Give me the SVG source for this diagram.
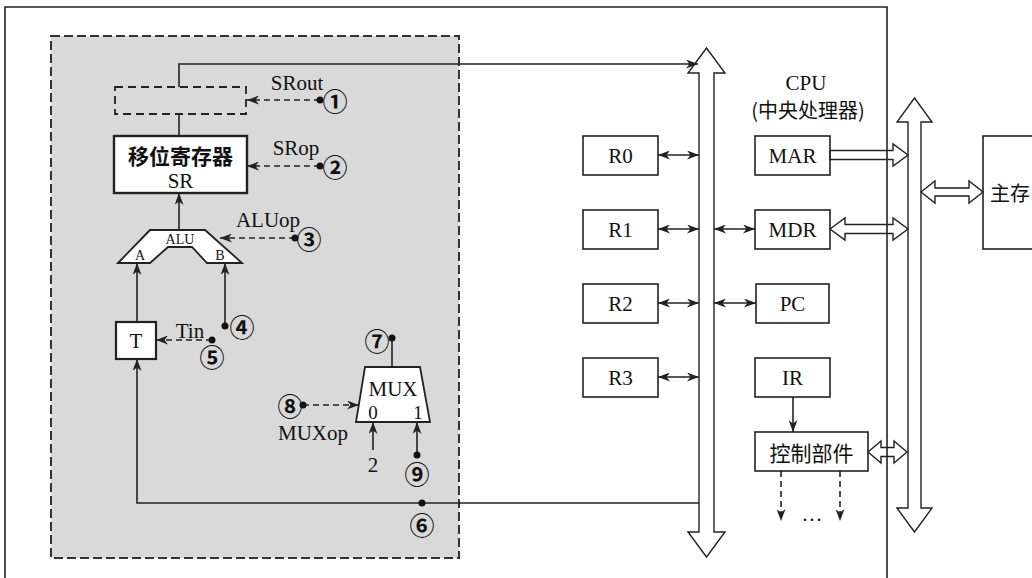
<svg xmlns="http://www.w3.org/2000/svg" width="1032" height="578" viewBox="0 0 1032 578">
<style>
.t{font-family:"Liberation Serif","Noto Sans CJK SC",serif;font-size:21px;fill:#111;text-anchor:middle;dominant-baseline:central}
.s{font-size:14px}
.cjk{font-family:"Noto Sans CJK SC",sans-serif;font-size:20px;fill:#111;text-anchor:middle;dominant-baseline:central}
.num{font-family:"Noto Sans CJK SC","DejaVu Sans",sans-serif;font-size:25px;font-weight:bold;fill:#111;text-anchor:middle;dominant-baseline:central}
.box{fill:#fff;stroke:#222;stroke-width:1.6}
.ln{fill:none;stroke:#222;stroke-width:1.6}
.dash{fill:none;stroke:#222;stroke-width:1.6;stroke-dasharray:6,4}
.hol{fill:none;stroke:#222;stroke-width:1.4;stroke-linejoin:miter}
</style>
<defs>
<marker id="ah" viewBox="0 0 12 9" refX="12" refY="4.5" markerWidth="12" markerHeight="9" markerUnits="userSpaceOnUse" orient="auto-start-reverse">
<path d="M0,0 L12,4.5 L0,9 L3.5,4.5 z" fill="#222"/>
</marker>
</defs>
<rect width="1032" height="578" fill="#fff"/>

<g id="cpu-frame">
<path d="M5,600 V7 H887 V600" class="ln" stroke-width="1.4"/>
</g>

<g id="datapath-area">
<rect x="51" y="36" width="408" height="522" fill="#d9d9d9" stroke="#333" stroke-width="2" stroke-dasharray="9,4"/>
</g>

<g id="bus-internal">
<polygon points="699,532 699,73 688,73 706.5,48 725,73 714,73 714,532 725,532 706.5,557 688,532" fill="#fff" stroke="#222" stroke-width="1.4"/>
</g>
<g id="bus-system">
<polygon points="908,508 908,122 897,122 914.5,98 932,122 921,122 921,508 932,508 914.5,532 897,508" fill="#fff" stroke="#222" stroke-width="1.4"/>
</g>

<g id="srout-gate">
<rect x="115" y="87" width="131" height="27" fill="none" stroke="#222" stroke-width="1.8" stroke-dasharray="8,5"/>
</g>

<g id="SR">
<rect x="114" y="136" width="133" height="57" fill="#fff" stroke="#222" stroke-width="2.4"/>
<text x="180.5" y="155" class="cjk" style="font-weight:bold;font-size:21px">移位寄存器</text>
<text x="180.5" y="181" class="t">SR</text>
</g>

<g id="ALU">
<polygon points="118,263 150,230 205,230 242,263 207,263 192,247 168,247 150,263" fill="#fff" stroke="#222" stroke-width="1.8"/>
<text x="180" y="239" class="t s">ALU</text>
<text x="140" y="255" class="t s">A</text>
<text x="220" y="255" class="t s">B</text>
</g>

<g id="T">
<rect x="116" y="322" width="40" height="37" fill="#fff" stroke="#222" stroke-width="2.2"/>
<text x="136" y="341" class="t">T</text>
</g>

<g id="MUX">
<polygon points="365,367 420,367 430,422 356,422" fill="#fff" stroke="#222" stroke-width="1.8"/>
<text x="393" y="389" class="t">MUX</text>
<text x="373" y="412" class="t" style="font-size:19px">0</text>
<text x="418" y="412" class="t" style="font-size:19px">1</text>
</g>

<g id="R0"><rect x="583" y="136" width="75" height="39" class="box"/><text x="620.5" y="155.5" class="t">R0</text></g>
<g id="R1"><rect x="583" y="210" width="75" height="39" class="box"/><text x="620.5" y="229.5" class="t">R1</text></g>
<g id="R2"><rect x="583" y="284" width="75" height="39" class="box"/><text x="620.5" y="303.5" class="t">R2</text></g>
<g id="R3"><rect x="583" y="358" width="75" height="39" class="box"/><text x="620.5" y="377.5" class="t">R3</text></g>

<g id="MAR"><rect x="755" y="136" width="75" height="39" class="box"/><text x="792.5" y="155.5" class="t">MAR</text></g>
<g id="MDR"><rect x="755" y="210" width="75" height="39" class="box"/><text x="792.5" y="229.5" class="t">MDR</text></g>
<g id="PC"><rect x="756" y="284" width="73" height="39" class="box"/><text x="792.5" y="303.5" class="t">PC</text></g>
<g id="IR"><rect x="755" y="358" width="75" height="39" class="box"/><text x="792.5" y="377.5" class="t">IR</text></g>
<g id="control"><rect x="755" y="432" width="113" height="39" class="box"/><text x="811.5" y="451.5" class="cjk" style="font-size:21px">控制部件</text></g>

<g id="memory">
<rect x="983" y="136" width="70" height="113" class="box"/>
<text x="990" y="192" class="cjk" style="text-anchor:start">主存</text>
</g>

<g id="cpu-label">
<text x="806" y="83" class="t">CPU</text>
<text x="808" y="109" class="cjk">(中央处理器)</text>
</g>

<g id="connectors">
<path d="M179,87 V64 H698" class="ln" marker-end="url(#ah)"/>
<path d="M179,114 V136" class="ln"/>
<path d="M179,230 V193" class="ln" marker-end="url(#ah)"/>
<path d="M137,322 V263" class="ln" marker-end="url(#ah)"/>
<path d="M225,326 V263" class="ln" marker-end="url(#ah)"/>
<path d="M699,503 H137 V359" class="ln" marker-end="url(#ah)"/>
<path d="M392,338 V367" class="ln"/>
<path d="M373,450 V422" class="ln" marker-end="url(#ah)"/>
<path d="M417,455 V422" class="ln" marker-end="url(#ah)"/>
<path d="M320,100 H247" class="dash" marker-end="url(#ah)"/>
<path d="M320,166 H247" class="dash" marker-end="url(#ah)"/>
<path d="M295,238 H220" class="dash" marker-end="url(#ah)"/>
<path d="M212,340 H156" class="dash" marker-end="url(#ah)"/>
<path d="M303,405 H359" class="dash" marker-end="url(#ah)"/>
<g fill="#111">
<circle cx="320" cy="100" r="3.5"/>
<circle cx="320" cy="166" r="3.5"/>
<circle cx="295" cy="238" r="3.5"/>
<circle cx="225" cy="326" r="3.5"/>
<circle cx="212" cy="340" r="3.5"/>
<circle cx="422" cy="503" r="3.5"/>
<circle cx="392" cy="338" r="3.5"/>
<circle cx="303" cy="405" r="3.5"/>
<circle cx="417" cy="455" r="3.5"/>
</g>
<path d="M658,155 H699" class="ln" stroke-width="1.4" marker-start="url(#ah)" marker-end="url(#ah)"/>
<path d="M658,229 H699" class="ln" stroke-width="1.4" marker-start="url(#ah)" marker-end="url(#ah)"/>
<path d="M658,303 H699" class="ln" stroke-width="1.4" marker-start="url(#ah)" marker-end="url(#ah)"/>
<path d="M658,377 H699" class="ln" stroke-width="1.4" marker-start="url(#ah)" marker-end="url(#ah)"/>
<path d="M714,229 H755" class="ln" stroke-width="1.4" marker-start="url(#ah)" marker-end="url(#ah)"/>
<path d="M714,303 H756" class="ln" stroke-width="1.4" marker-start="url(#ah)" marker-end="url(#ah)"/>
<path d="M793,397 V432" class="ln" stroke-width="1.4" marker-end="url(#ah)"/>
<path d="M781,471 V521" class="dash" stroke-width="1.4" marker-end="url(#ah)"/>
<path d="M840,471 V521" class="dash" stroke-width="1.4" marker-end="url(#ah)"/>
<polygon points="830,150.5 893,150.5 893,144 908,155 893,166 893,159.5 830,159.5" class="hol"/>
<polygon points="830,229 845,218 845,224.5 893,224.5 893,218 908,229 893,240 893,233.5 845,233.5 845,240" class="hol"/>
<polygon points="921,192 935,181 935,188 969,188 969,181 983,192 969,203 969,196 935,196 935,203" class="hol"/>
<polygon points="868,452 881,441 881,447.5 894,447.5 894,441 907,452 894,463 894,456.5 881,456.5 881,463" class="hol"/>
</g>

<g id="labels">
<text x="297" y="83" class="t">SRout</text>
<text x="296" y="148" class="t">SRop</text>
<text x="268" y="220" class="t">ALUop</text>
<text x="190" y="331" class="t">Tin</text>
<text x="313" y="433" class="t">MUXop</text>
<text x="373" y="465" class="t">2</text>
<text x="812" y="514" class="t">…</text>
<text x="335" y="100" class="num">①</text>
<text x="335" y="166" class="num">②</text>
<text x="309" y="238" class="num">③</text>
<text x="242" y="326" class="num">④</text>
<text x="212" y="356" class="num">⑤</text>
<text x="422" y="524" class="num">⑥</text>
<text x="377" y="340" class="num">⑦</text>
<text x="290" y="405" class="num">⑧</text>
<text x="417" y="473" class="num">⑨</text>
</g>
</svg>
